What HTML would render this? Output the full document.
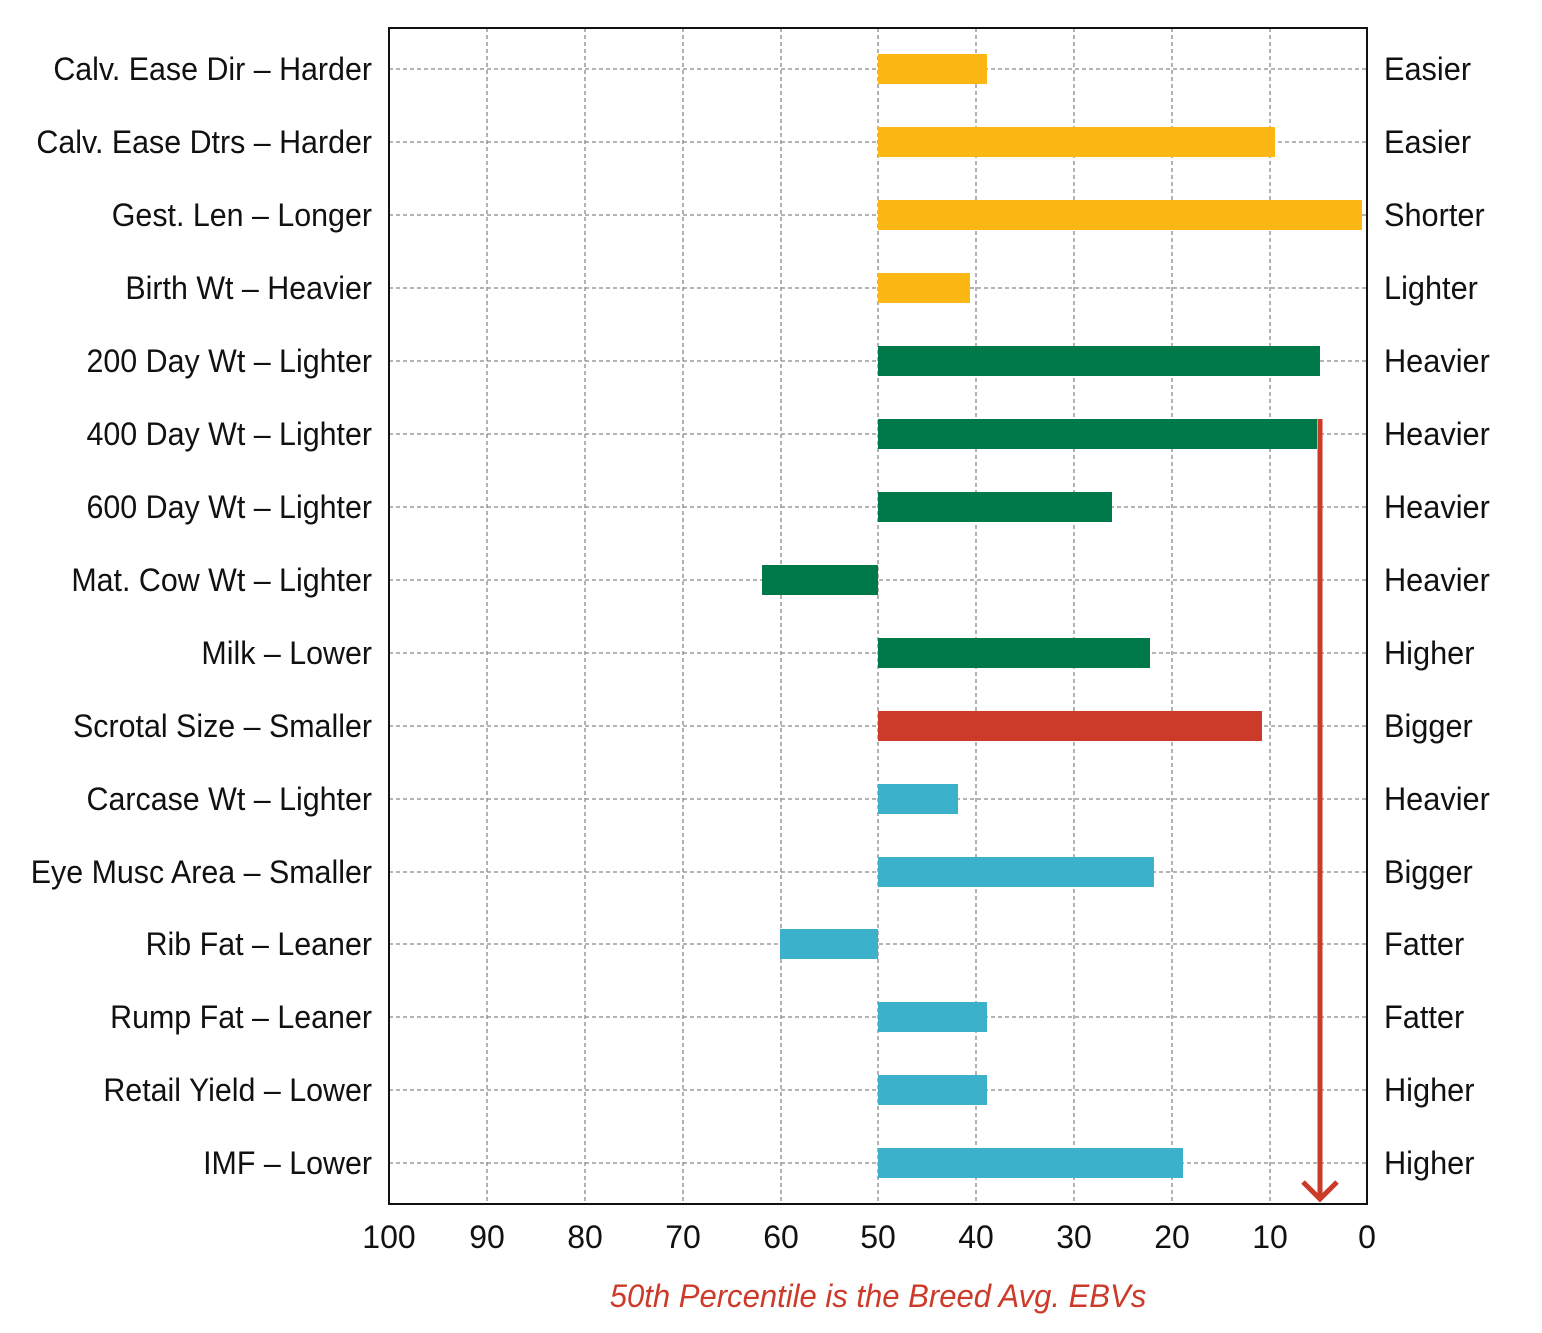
<!DOCTYPE html>
<html><head><meta charset="utf-8"><style>
html,body{margin:0;padding:0;background:#fff;}
svg{display:block;}
text{font-family:"Liberation Sans Narrow","Liberation Sans",sans-serif;font-size:32px;fill:#111;}
</style></head><body>
<svg width="1542" height="1333" viewBox="0 0 1542 1333" xmlns="http://www.w3.org/2000/svg">
<g stroke="#888" stroke-width="1.3" stroke-dasharray="4,3">
<line x1="487" y1="28" x2="487" y2="1204"/><line x1="585" y1="28" x2="585" y2="1204"/>
<line x1="683" y1="28" x2="683" y2="1204"/><line x1="781" y1="28" x2="781" y2="1204"/>
<line x1="878" y1="28" x2="878" y2="1204"/><line x1="976" y1="28" x2="976" y2="1204"/>
<line x1="1074" y1="28" x2="1074" y2="1204"/><line x1="1172" y1="28" x2="1172" y2="1204"/>
<line x1="1270" y1="28" x2="1270" y2="1204"/>
<line x1="389" y1="69" x2="1367" y2="69"/><line x1="389" y1="142" x2="1367" y2="142"/>
<line x1="389" y1="215" x2="1367" y2="215"/><line x1="389" y1="288" x2="1367" y2="288"/>
<line x1="389" y1="361" x2="1367" y2="361"/><line x1="389" y1="434" x2="1367" y2="434"/>
<line x1="389" y1="507" x2="1367" y2="507"/><line x1="389" y1="580" x2="1367" y2="580"/>
<line x1="389" y1="653" x2="1367" y2="653"/><line x1="389" y1="726" x2="1367" y2="726"/>
<line x1="389" y1="799" x2="1367" y2="799"/><line x1="389" y1="872" x2="1367" y2="872"/>
<line x1="389" y1="944" x2="1367" y2="944"/><line x1="389" y1="1017" x2="1367" y2="1017"/>
<line x1="389" y1="1090" x2="1367" y2="1090"/><line x1="389" y1="1163" x2="1367" y2="1163"/>
</g>
<g>
<rect x="878" y="54" width="109" height="30" fill="#FDB714"/>
<rect x="878" y="127" width="397" height="30" fill="#FDB714"/>
<rect x="878" y="200" width="484" height="30" fill="#FDB714"/>
<rect x="878" y="273" width="92" height="30" fill="#FDB714"/>
<rect x="878" y="346" width="442" height="30" fill="#00794A"/>
<rect x="878" y="419" width="439" height="30" fill="#00794A"/>
<rect x="878" y="492" width="234" height="30" fill="#00794A"/>
<rect x="762" y="565" width="116" height="30" fill="#00794A"/>
<rect x="878" y="638" width="272" height="30" fill="#00794A"/>
<rect x="878" y="711" width="384" height="30" fill="#CC3A2A"/>
<rect x="878" y="784" width="80" height="30" fill="#3BB1CB"/>
<rect x="878" y="857" width="276" height="30" fill="#3BB1CB"/>
<rect x="780" y="929" width="98" height="30" fill="#3BB1CB"/>
<rect x="878" y="1002" width="109" height="30" fill="#3BB1CB"/>
<rect x="878" y="1075" width="109" height="30" fill="#3BB1CB"/>
<rect x="878" y="1148" width="305" height="30" fill="#3BB1CB"/>
</g>
<line x1="1320" y1="419" x2="1320" y2="1200" stroke="#CC3A2A" stroke-width="5"/>
<polyline points="1303,1182 1320,1199 1337,1182" fill="none" stroke="#CC3A2A" stroke-width="5"/>
<rect x="389" y="28" width="978" height="1176" fill="none" stroke="#111" stroke-width="2"/>
<g text-anchor="end" transform="translate(372,0) scale(0.95,1) translate(-372,0)">
<text x="372" y="80">Calv. Ease Dir – Harder</text>
<text x="372" y="153">Calv. Ease Dtrs – Harder</text>
<text x="372" y="226">Gest. Len – Longer</text>
<text x="372" y="299">Birth Wt – Heavier</text>
<text x="372" y="372">200 Day Wt – Lighter</text>
<text x="372" y="445">400 Day Wt – Lighter</text>
<text x="372" y="518">600 Day Wt – Lighter</text>
<text x="372" y="591">Mat. Cow Wt – Lighter</text>
<text x="372" y="664">Milk – Lower</text>
<text x="372" y="737">Scrotal Size – Smaller</text>
<text x="372" y="810">Carcase Wt – Lighter</text>
<text x="372" y="883">Eye Musc Area – Smaller</text>
<text x="372" y="955">Rib Fat – Leaner</text>
<text x="372" y="1028">Rump Fat – Leaner</text>
<text x="372" y="1101">Retail Yield – Lower</text>
<text x="372" y="1174">IMF – Lower</text>
</g>
<g transform="translate(1384,0) scale(0.96,1) translate(-1384,0)">
<text x="1384" y="80">Easier</text>
<text x="1384" y="153">Easier</text>
<text x="1384" y="226">Shorter</text>
<text x="1384" y="299">Lighter</text>
<text x="1384" y="372">Heavier</text>
<text x="1384" y="445">Heavier</text>
<text x="1384" y="518">Heavier</text>
<text x="1384" y="591">Heavier</text>
<text x="1384" y="664">Higher</text>
<text x="1384" y="737">Bigger</text>
<text x="1384" y="810">Heavier</text>
<text x="1384" y="883">Bigger</text>
<text x="1384" y="955">Fatter</text>
<text x="1384" y="1028">Fatter</text>
<text x="1384" y="1101">Higher</text>
<text x="1384" y="1174">Higher</text>
</g>
<g text-anchor="middle">
<text x="389" y="1248">100</text><text x="487" y="1248">90</text><text x="585" y="1248">80</text>
<text x="683" y="1248">70</text><text x="781" y="1248">60</text><text x="878" y="1248">50</text>
<text x="976" y="1248">40</text><text x="1074" y="1248">30</text><text x="1172" y="1248">20</text>
<text x="1270" y="1248">10</text><text x="1367" y="1248">0</text>
<text x="878" y="1307" transform="translate(878,0) scale(0.97,1) translate(-878,0)" style="font-style:italic;fill:#CC3A2A;">50th Percentile is the Breed Avg. EBVs</text>
</g>
</svg>
</body></html>
